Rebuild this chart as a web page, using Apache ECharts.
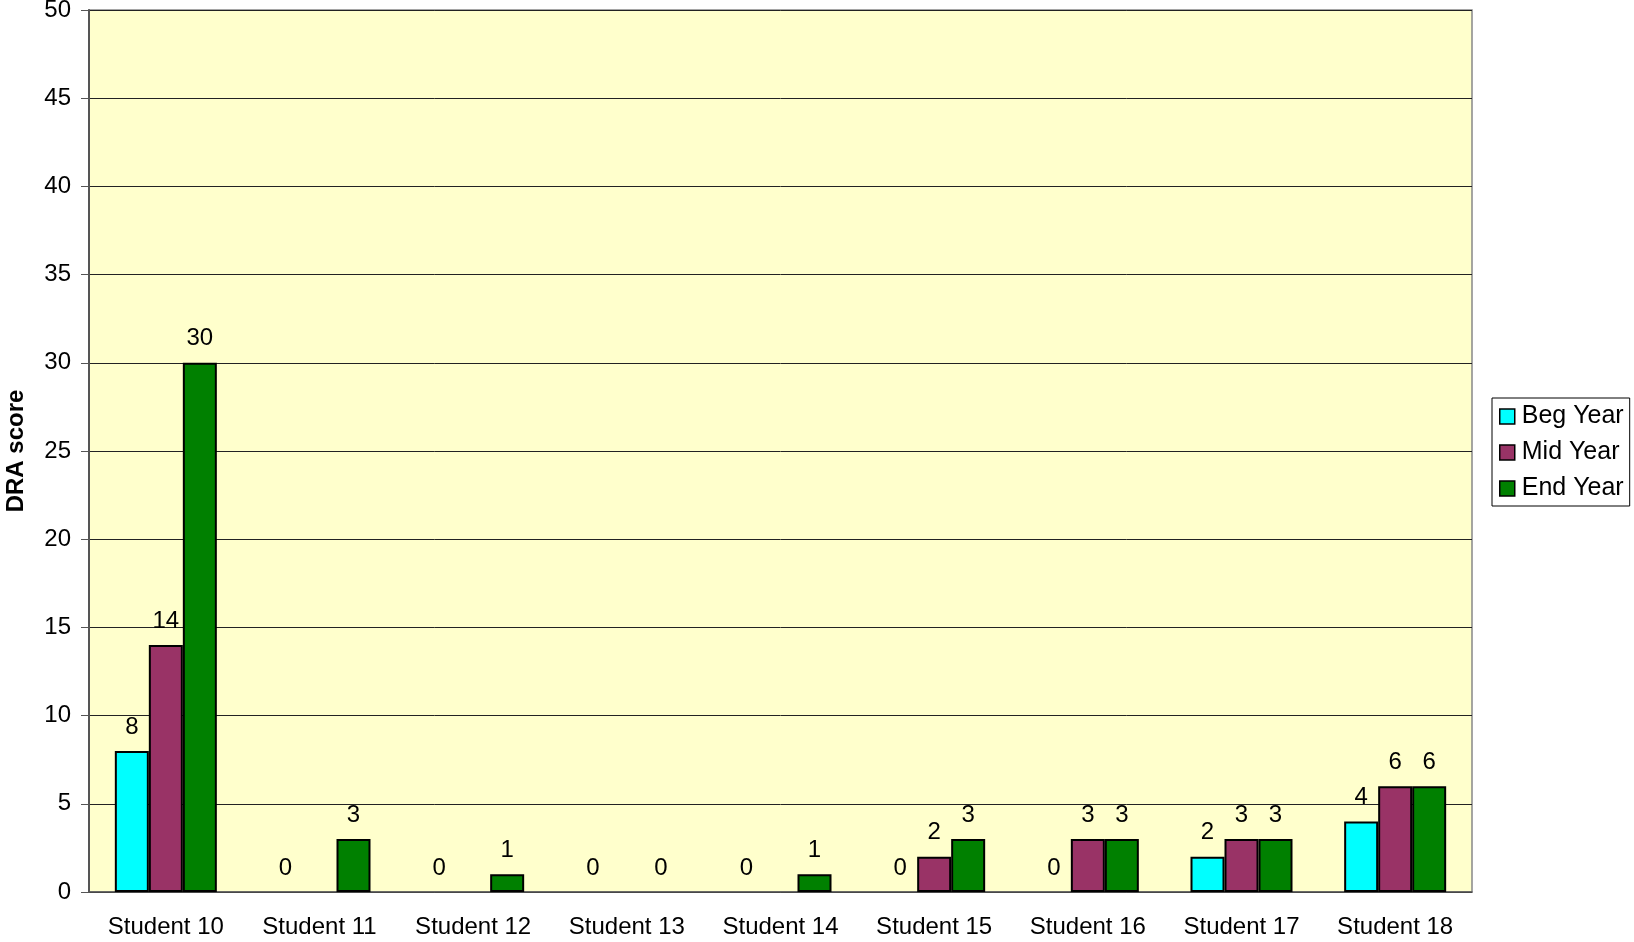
<!DOCTYPE html>
<html>
<head>
    <meta charset="utf-8">
    <title>DRA score</title>
    <style>
        html, body { margin: 0; padding: 0; background: #fff; }
        #chart { width: 1634px; height: 942px; }
    </style>
</head>
<body>
<div id="chart"></div>
<script src="https://cdn.jsdelivr.net/npm/echarts@6/dist/echarts.min.js"></script>
<script>
    // data; null = no value plotted
    var students = ['Student 10', 'Student 11', 'Student 12', 'Student 13', 'Student 14',
        'Student 15', 'Student 16', 'Student 17', 'Student 18'];
    var begYear = [8, 0, 0, 0, 0, 0, 0, 2, 4];
    var midYear = [14, null, null, null, null, 2, 3, 3, 6];
    var endYear = [30, 3, 1, 0, 1, 3, 3, 3, 6];

    var font = 'Liberation Sans, Arial, sans-serif';

    // zero bars: no outline (otherwise a black line shows at the baseline)
    function toData(arr) {
        return arr.map(function (v) {
            if (v === 0) {
                return {value: 0, itemStyle: {borderWidth: 0}};
            }
            return v;
        });
    }

    function makeSeries(name, arr, color) {
        return {
            name: name,
            type: 'bar',
            data: toData(arr),
            barWidth: 34,
            barGap: '0%',
            itemStyle: {color: color, borderColor: '#000', borderWidth: 2},
            label: {
                show: true,
                position: 'top',
                distance: 12,
                color: '#000',
                fontFamily: font,
                fontSize: 24
            }
        };
    }

    var myChart = echarts.init(document.getElementById('chart'));
    var option = {
        backgroundColor: '#fff',
        animation: false,
        grid: {
            left: 89, top: 10, right: 162, bottom: 50,
            outerBoundsMode: 'none',
            containLabel: false,
            show: true,
            backgroundColor: '#FFFFCC',
            borderColor: '#888',
            borderWidth: 1.5
        },
        legend: {
            orient: 'vertical',
            left: 1492,
            top: 398,
            padding: [6, 6, 5, 7],
            itemGap: 11,
            itemWidth: 15,
            itemHeight: 15,
            borderColor: '#000',
            borderWidth: 1,
            backgroundColor: '#fff',
            icon: 'rect',
            itemStyle: {borderColor: '#000', borderWidth: 1.5},
            textStyle: {fontFamily: font, fontSize: 25, color: '#000', lineHeight: 24, padding: [0, 0, 0, 2]},
            data: ['Beg Year', 'Mid Year', 'End Year']
        },
        xAxis: {
            type: 'category',
            data: students,
            axisLine: {lineStyle: {color: '#555', width: 1.5}},
            axisTick: {length: 7, lineStyle: {color: '#777'}},
            axisLabel: {color: '#000', fontFamily: font, fontSize: 24, margin: 23},
            splitLine: {show: false}
        },
        yAxis: {
            type: 'value',
            min: 0,
            max: 50,
            interval: 5,
            name: 'DRA score',
            nameLocation: 'middle',
            nameGap: 61,
            nameTextStyle: {color: '#000', fontFamily: font, fontSize: 24, fontWeight: 'bold'},
            axisLine: {show: true, lineStyle: {color: '#555', width: 2}},
            axisTick: {show: true, length: 8, lineStyle: {color: '#555'}},
            axisLabel: {color: '#000', fontFamily: font, fontSize: 24, margin: 18},
            splitLine: {lineStyle: {color: '#222', width: 1}}
        },
        series: [
            makeSeries('Beg Year', begYear, '#00FFFF'),
            makeSeries('Mid Year', midYear, '#993366'),
            makeSeries('End Year', endYear, '#008000')
        ]
    };
    myChart.setOption(option);
</script>
</body>
</html>
